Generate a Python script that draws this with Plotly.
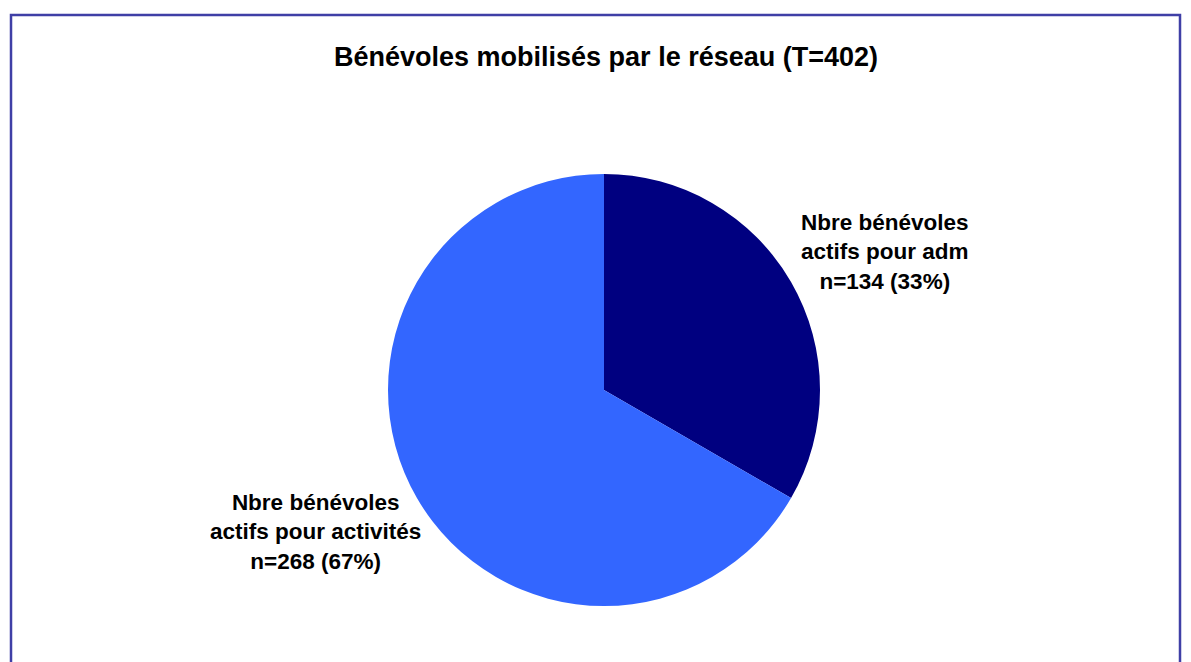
import plotly.graph_objects as go

title = "Bénévoles mobilisés par le réseau (T=402)"
labels = ["Nbre bénévoles<br>actifs pour adm", "Nbre bénévoles<br>actifs pour activités"]
values = [134, 268]
colors = ["#000080", "#3366FF"]
total = sum(values)

W, H = 1191, 662
OFF = 8  # page body margin
cx, cy, r = 604 - OFF, 390 - OFF, 216

fig = go.Figure(go.Pie(
    labels=labels,
    values=values,
    sort=False,
    direction="clockwise",
    rotation=0,
    marker=dict(colors=colors, line=dict(width=0)),
    textinfo="none",
    hoverinfo="label+value+percent",
    showlegend=False,
    domain=dict(x=[(cx - r) / W, (cx + r) / W], y=[(H - cy - r) / H, (H - cy + r) / H]),
))

label_pos = [(885 - OFF, 252 - OFF), (315 - OFF, 532 - OFF)]
annotations = []
for lab, v, (px, py) in zip(labels, values, label_pos):
    annotations.append(dict(
        x=px / W, y=1 - py / H, xref="paper", yref="paper",
        text=f"<b>{lab}<br>n={v} ({round(100 * v / total)}%)</b>",
        showarrow=False, xanchor="center", yanchor="middle", align="center",
        font=dict(family="Liberation Sans, Arial, sans-serif", size=22.5, color="#000000"),
    ))
annotations.append(dict(
    x=(606 - OFF) / W, y=1 - (57 - OFF) / H, xref="paper", yref="paper",
    text=f"<b>{title}</b>", showarrow=False, xanchor="center", yanchor="middle",
    font=dict(family="Liberation Sans, Arial, sans-serif", size=27, color="#000000"),
))

fig.update_layout(
    width=W, height=H,
    margin=dict(l=0, r=0, t=0, b=0),
    paper_bgcolor="white",
    plot_bgcolor="white",
    annotations=annotations,
    shapes=[dict(type="rect", xref="paper", yref="paper",
                 x0=(11 - OFF) / W, x1=(1180 - OFF) / W, y0=-0.05, y1=1 - (15 - OFF) / H,
                 line=dict(color="#3F3FA6", width=2.5), fillcolor="rgba(0,0,0,0)")],
)

fig.write_html("out.html")
